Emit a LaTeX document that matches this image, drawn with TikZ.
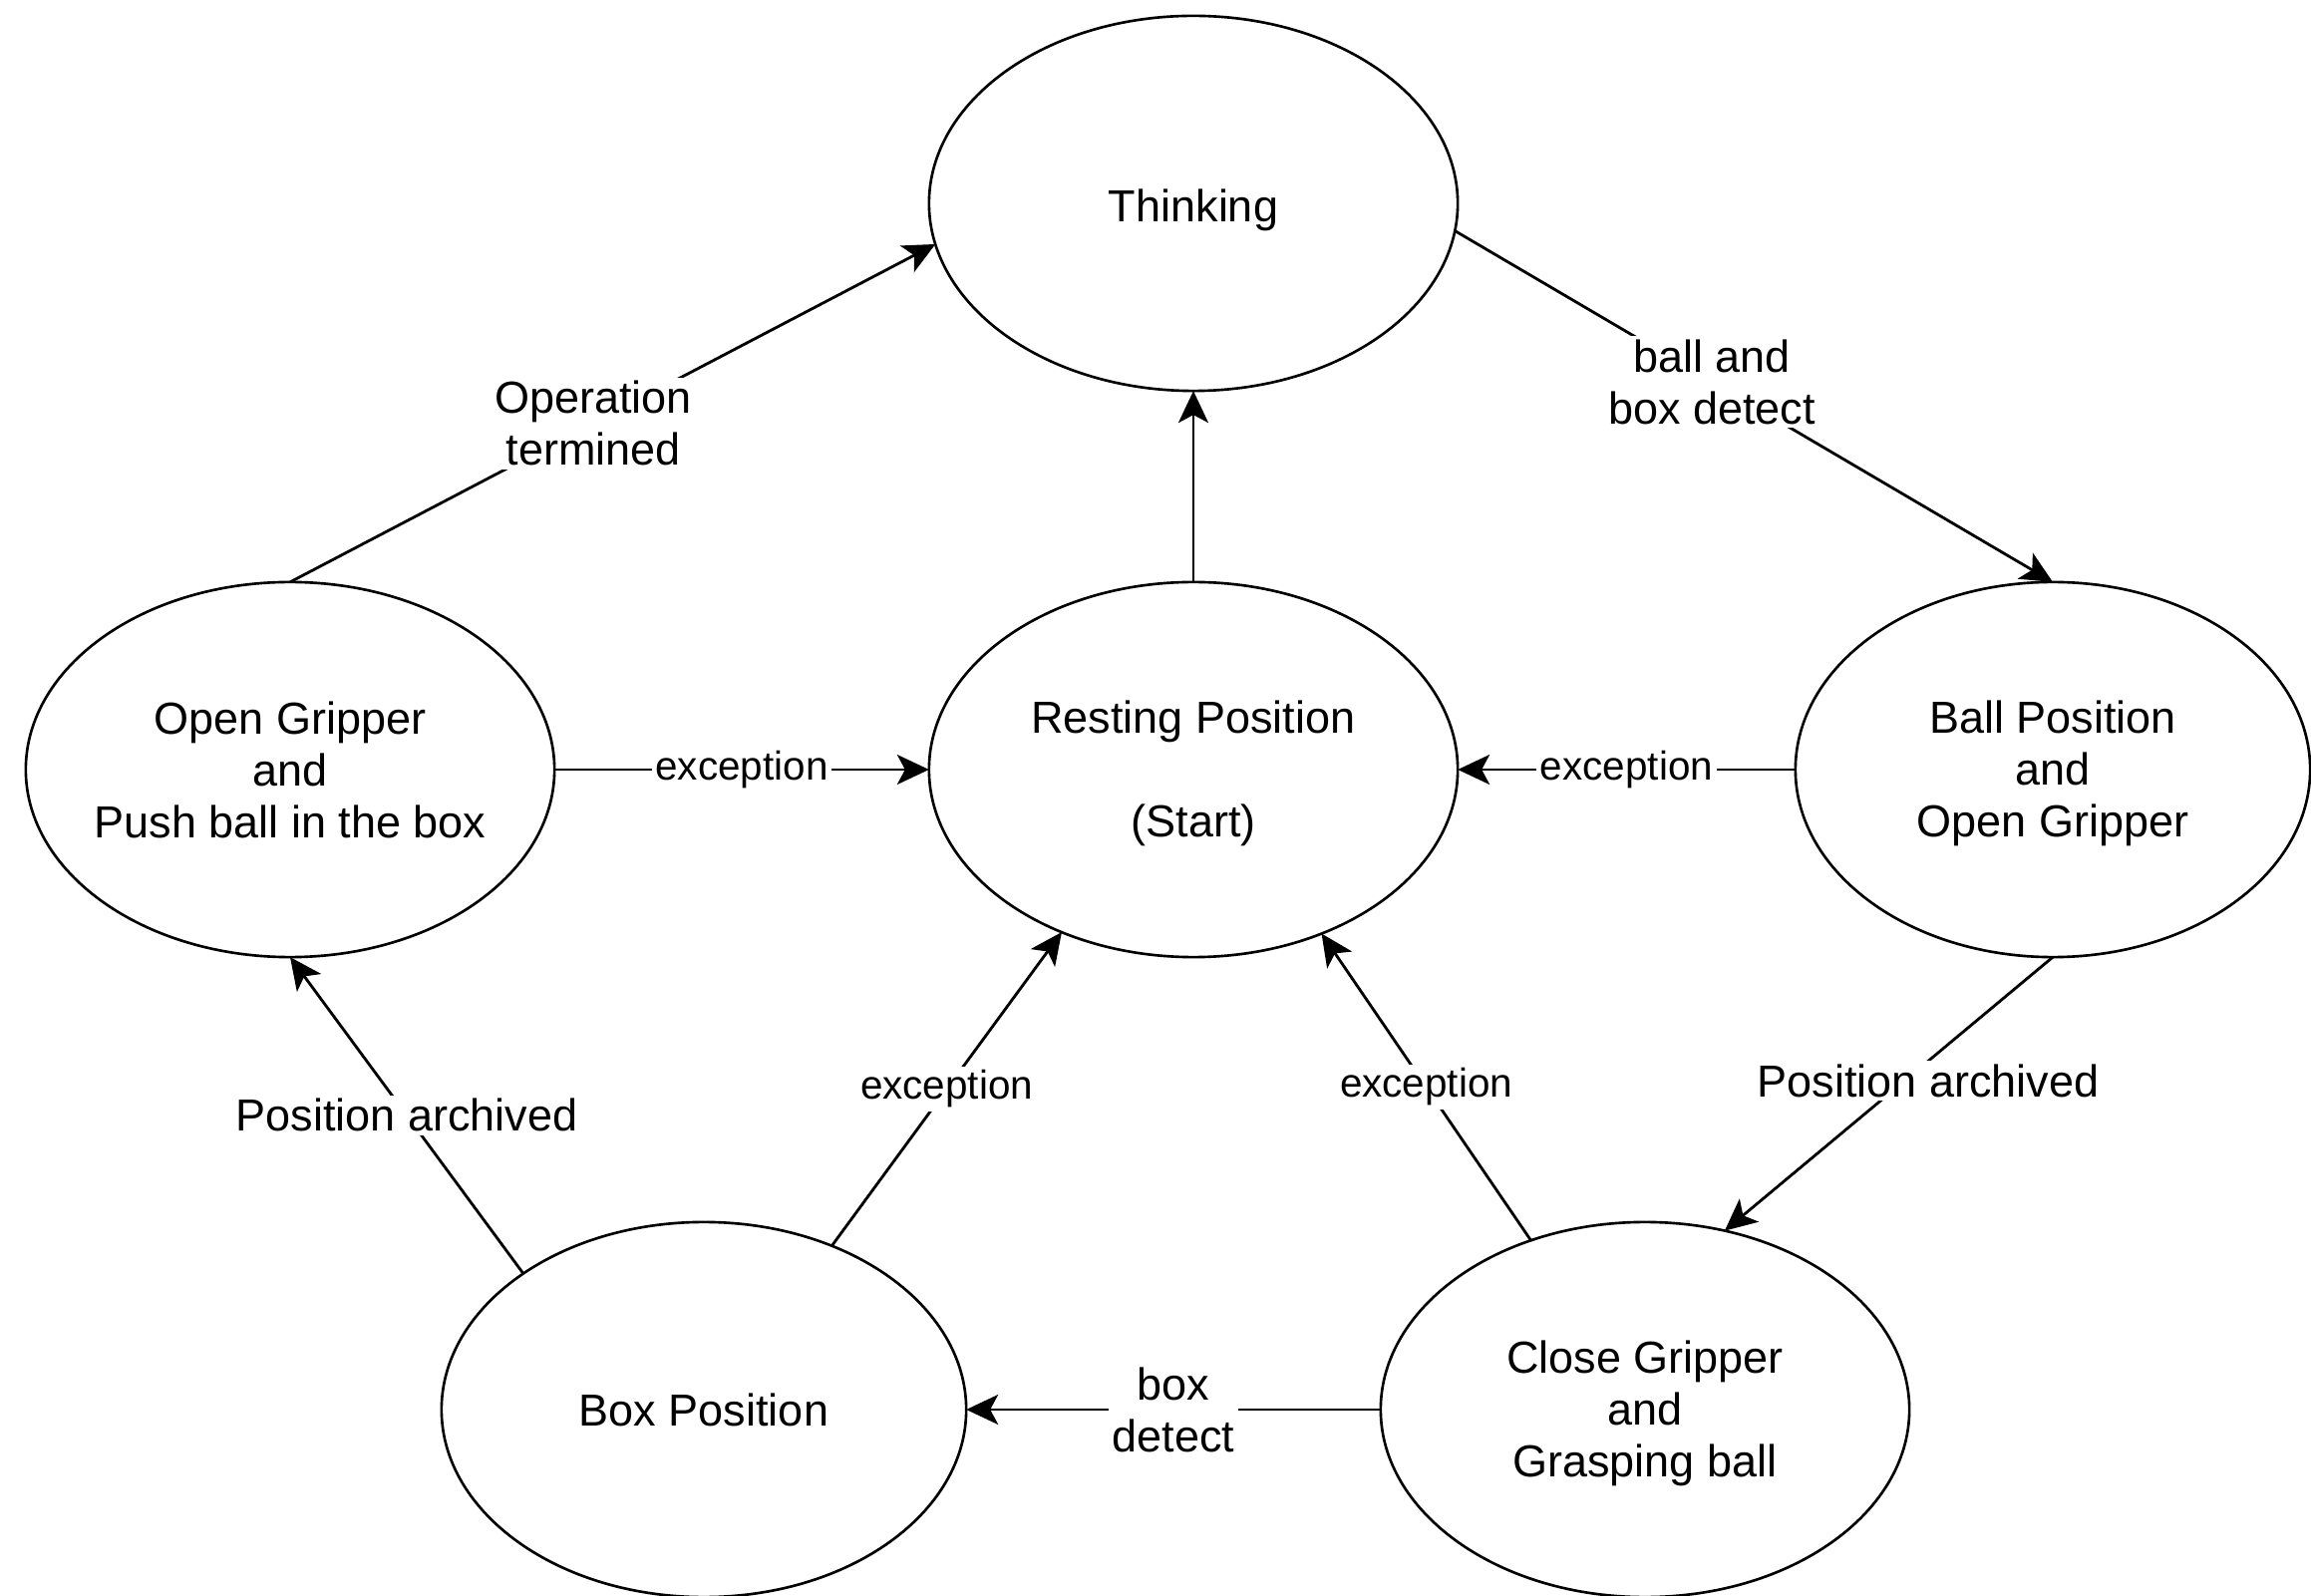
\documentclass[tikz,border=0pt]{standalone}
\usepackage{fontspec}
\setmainfont{Liberation Sans}
\usetikzlibrary{arrows.meta,shapes.geometric}
\newcommand{\lowertext}[2]{\raisebox{-#1}[\height][\depth]{\begin{tabular}{@{}c@{}}#2\end{tabular}}}
\begin{document}
\begin{tikzpicture}[x=0.01cm,y=-0.01cm,
  state/.style={ellipse,draw,line width=0.75pt,minimum width=5.3cm,minimum height=3.76cm,
    inner sep=0pt,inner xsep=-0.4cm,outer sep=0pt,align=center,
    font=\fontsize{12.8pt}{14.8pt}\selectfont},
  conn/.style={line width=0.8pt,-{Stealth[length=0.32cm,width=0.3cm,inset=0.08cm]}},
  lbl/.style={fill=white,inner sep=1pt,align=center,font=\fontsize{12.8pt}{14.8pt}\selectfont},
  exc/.style={fill=white,inner sep=1pt,font=\fontsize{11.5pt}{13.5pt}\selectfont}]
\useasboundingbox (0,0) rectangle (2318,1601);
\fill[white] (0,0) rectangle (2318,1601);

\node[state] (think) at (1197,204) {\lowertext{0.08cm}{Thinking}};
\node[state] (rest) at (1197,772) {\lowertext{0.05cm}{Resting Position\\\mbox{}\\(Start)}};
\node[state] (open) at (291,772) {Open Gripper\\and\\Push ball in the box};
\node[state,minimum width=5.16cm] (ball) at (2059,772) {\lowertext{0.05cm}{Ball Position\\and\\Open Gripper}};
\node[state,minimum width=5.26cm] (box) at (706,1414) {Box Position};
\node[state] (close) at (1650,1414) {\lowertext{0.05cm}{Close Gripper\\and\\Grasping ball}};

\draw[conn] (rest.north) -- (think.south);
\draw[conn] (think.-6) -- node[lbl,pos=0.43]{ball and\\box detect} (ball.north);
\draw[conn] (open.north) -- node[lbl,pos=0.47]{Operation\\termined} (think.189);
\draw[conn] (open.east) -- node[exc]{exception} (rest.west);
\draw[conn] (ball.west) -- node[exc]{exception} (rest.east);
\draw[conn] (ball.south) -- node[lbl,pos=0.38,yshift=-0.2cm]{Position archived} (close.66);
\draw[conn] (close.west) -- node[lbl]{box\\detect} (box.east);
\draw[conn] (close.124) -- node[exc]{exception} (rest.-52);
\draw[conn] (box.52) -- node[exc]{exception} (rest.-129);
\draw[conn] (box.143) -- node[lbl]{Position archived} (open.south);
\end{tikzpicture}
\end{document}
